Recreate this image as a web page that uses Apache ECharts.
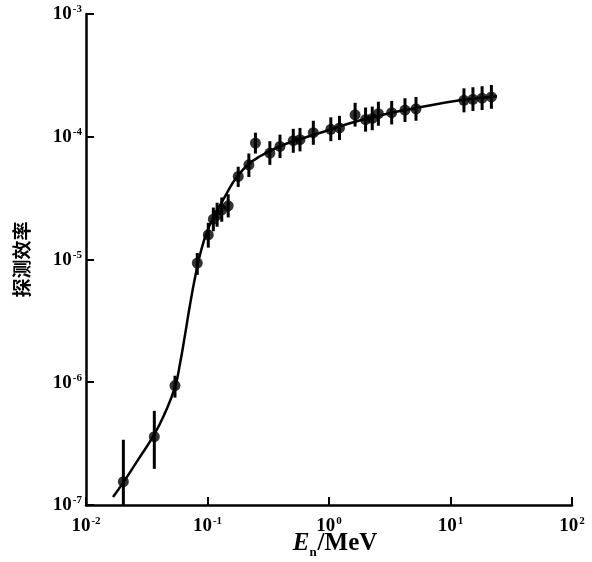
<!DOCTYPE html>
<html>
<head>
<meta charset="utf-8">
<script src="https://cdn.jsdelivr.net/npm/echarts@6/dist/echarts.min.js"></script>
<style>html,body{margin:0;padding:0;background:#fff}#c{width:592px;height:562px}</style>
</head>
<body>
<div id="c"></div>
<script>
// Measured points: neutron energy (MeV) and detection efficiency
var energies = [0.0203, 0.0365, 0.054, 0.0824, 0.1015, 0.1117, 0.120, 0.131, 0.148, 0.179,
  0.219, 0.248, 0.326, 0.395, 0.508, 0.577, 0.743, 1.035, 1.22, 1.64,
  2.0, 2.27, 2.55, 3.28, 4.22, 5.2, 12.9, 15.3, 18.2, 21.7];
var efficiency = [1.55e-7, 3.6e-7, 9.4e-7, 9.35e-6, 1.59e-5, 2.13e-5, 2.31e-5, 2.54e-5, 2.74e-5, 4.75e-5,
  5.91e-5, 8.89e-5, 7.37e-5, 8.34e-5, 9.28e-5, 9.46e-5, 1.08e-4, 1.15e-4, 1.18e-4, 1.51e-4,
  1.38e-4, 1.41e-4, 1.54e-4, 1.57e-4, 1.65e-4, 1.69e-4, 1.98e-4, 2.02e-4, 2.06e-4, 2.11e-4];
var errHigh = [3.4e-7, 5.85e-7, 1.13e-6, 1.13e-5, 1.99e-5, 2.65e-5, 2.9e-5, 3.2e-5, 3.4e-5, 5.7e-5,
  7.3e-5, 1.08e-4, 9.2e-5, 1.04e-4, 1.16e-4, 1.18e-4, 1.35e-4, 1.44e-4, 1.48e-4, 1.89e-4,
  1.73e-4, 1.76e-4, 1.93e-4, 1.96e-4, 2.06e-4, 2.11e-4, 2.48e-4, 2.53e-4, 2.58e-4, 2.64e-4];
var errLow = [1.0e-7, 1.97e-7, 7.5e-7, 7.5e-6, 1.25e-5, 1.70e-5, 1.85e-5, 2.03e-5, 2.2e-5, 3.9e-5,
  4.7e-5, 7.3e-5, 5.9e-5, 6.7e-5, 7.4e-5, 7.6e-5, 8.6e-5, 9.2e-5, 9.4e-5, 1.21e-4,
  1.10e-4, 1.13e-4, 1.23e-4, 1.26e-4, 1.32e-4, 1.35e-4, 1.58e-4, 1.62e-4, 1.65e-4, 1.69e-4];
// Fitted curve
var curveE = [0.01668, 0.02016, 0.02679, 0.03628, 0.04469, 0.054, 0.05937, 0.06529, 0.07178, 0.07889,
  0.08677, 0.09906, 0.1153, 0.1447, 0.1749, 0.2154, 0.2704, 0.3951, 0.5772,
  1.019, 1.637, 2.89, 5.104, 11.97, 24.14];
var curveEff = [1.164e-7, 1.514e-7, 2.333e-7, 3.725e-7, 5.63e-7, 9.17e-7, 1.413e-6, 2.433e-6, 4.273e-6, 7.09e-6,
  1.092e-5, 1.682e-5, 2.313e-5, 3.497e-5, 4.721e-5, 5.913e-5, 6.935e-5, 8.37e-5, 9.54e-5,
  1.140e-4, 1.325e-4, 1.526e-4, 1.707e-4, 1.983e-4, 2.138e-4];

var serif = '"Liberation Serif", "DejaVu Serif", serif';
function expLabel(v) {
  var e = Math.round(Math.log10(v));
  return '{b|10}{s|' + e + '}';
}
var richStyle = {
  b: { fontFamily: serif, fontSize: 19, fontWeight: 'bold', color: '#000', lineHeight: 20, verticalAlign: 'bottom' },
  s: { fontFamily: serif, fontSize: 11, fontWeight: 'bold', color: '#000', lineHeight: 20, verticalAlign: 'top', padding: [0, 0, 0, 1] }
};

var scatterData = energies.map(function (e, i) { return [e, efficiency[i]]; });
var errData = energies.map(function (e, i) { return [e, errLow[i], errHigh[i]]; });
var curveData = curveE.map(function (e, i) { return [e, curveEff[i]]; });

var chart = echarts.init(document.getElementById('c'), null, { renderer: 'canvas' });
chart.setOption({
  backgroundColor: '#fff',
  animation: false,
  grid: { left: 86, right: 20, top: 14, bottom: 57, containLabel: false, outerBoundsMode: 'none' },
  xAxis: {
    type: 'log', logBase: 10, min: 0.01, max: 100,
    name: '{i|E}{sub|n}{r|/MeV}',
    nameLocation: 'middle', nameGap: 26, nameMoveOverlap: false,
    nameTextStyle: {
      padding: [0, 0, 0, 12],
      rich: {
        i: { fontFamily: serif, fontStyle: 'italic', fontWeight: 'bold', fontSize: 25, color: '#000', lineHeight: 26 },
        sub: { fontFamily: serif, fontSize: 13, fontWeight: 'bold', color: '#000', lineHeight: 26, verticalAlign: 'bottom', padding: [0, 1, -2, 0] },
        r: { fontFamily: serif, fontSize: 25, fontWeight: 'bold', color: '#000', lineHeight: 26 }
      }
    },
    axisLine: { show: true, lineStyle: { color: '#000', width: 2.5 } },
    axisTick: { show: true, inside: true, length: 8, lineStyle: { color: '#000', width: 2 } },
    minorTick: { show: false },
    splitLine: { show: false },
    axisLabel: { margin: 11, formatter: expLabel, rich: richStyle }
  },
  yAxis: {
    type: 'log', logBase: 10, min: 1e-7, max: 1e-3,
    name: '探测效率',
    nameLocation: 'middle', nameGap: 55, nameRotate: 90, nameMoveOverlap: false,
    nameTextStyle: { fontFamily: '"Noto Sans CJK SC"', fontSize: 19, fontWeight: 'bold', color: '#000' },
    axisLine: { show: true, lineStyle: { color: '#000', width: 2.5 } },
    axisTick: { show: true, inside: true, length: 8, lineStyle: { color: '#000', width: 2 } },
    splitLine: { show: false },
    axisLabel: { margin: 4, formatter: expLabel, rich: richStyle }
  },
  series: [
    {
      type: 'line', data: curveData, smooth: 0.5, symbol: 'none',
      lineStyle: { color: '#000', width: 2.5 }, z: 2
    },
    {
      type: 'custom', data: errData, z: 3,
      renderItem: function (params, api) {
        var x = api.value(0);
        var p1 = api.coord([x, api.value(1)]);
        var p2 = api.coord([x, api.value(2)]);
        return { type: 'line', shape: { x1: p1[0], y1: p1[1], x2: p2[0], y2: p2[1] },
          style: { stroke: '#000', lineWidth: 3 } };
      },
      encode: { x: 0, y: [1, 2] }
    },
    {
      type: 'scatter', data: scatterData, symbol: 'circle', symbolSize: 11,
      itemStyle: { color: '#000' }, z: 4
    }
  ]
});
</script>
</body>
</html>
